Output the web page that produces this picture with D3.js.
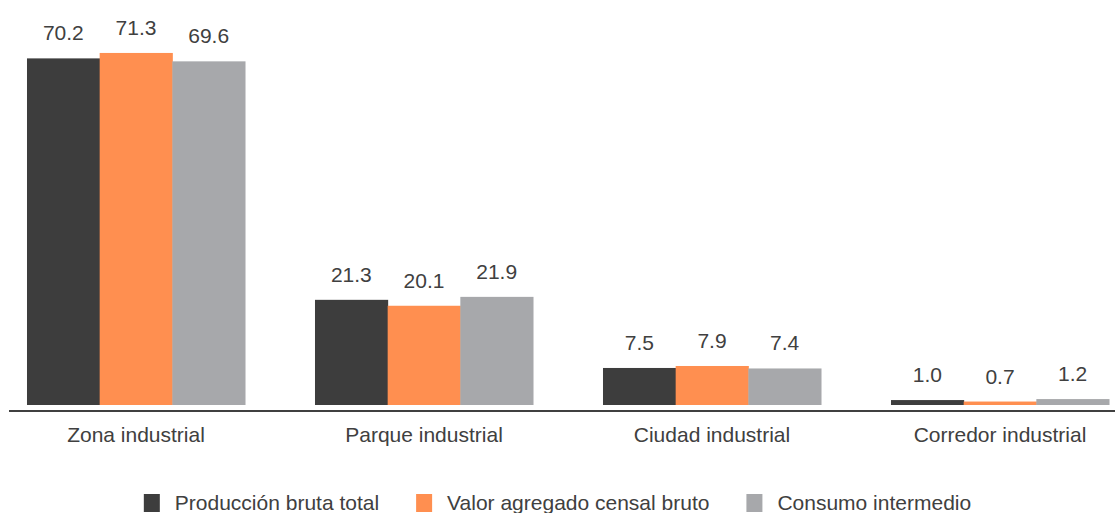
<!DOCTYPE html>
<html>
<head>
<meta charset="utf-8">
<script src="https://cdn.jsdelivr.net/npm/d3@7"></script>
<style>
  body { margin: 0; background: #fff; }
  text { font-family: "Liberation Sans", Arial, sans-serif; fill: #404040; }
</style>
</head>
<body>
<div id="viz"></div>
<script>
var categories = ["Zona industrial", "Parque industrial", "Ciudad industrial", "Corredor industrial"];
var seriesNames = ["Producción bruta total", "Valor agregado censal bruto", "Consumo intermedio"];
var produccion = [70.2, 21.3, 7.5, 1.0];
var valorAgregado = [71.3, 20.1, 7.9, 0.7];
var consumo = [69.6, 21.9, 7.4, 1.2];
var colors = ["#3d3d3d", "#ff8f50", "#a7a8ab"];

var series = [produccion, valorAgregado, consumo];

var width = 1115,
    height = 513;

var svg = d3.select("#viz")
    .append("svg")
    .attr("width", width)
    .attr("height", height);

// group scale runs a little past the right edge, like the cropped original
var x0 = d3.scaleBand()
    .domain(categories)
    .range([10, 1126])
    .paddingInner(0.243)
    .paddingOuter(0.059);

var x1 = d3.scaleBand()
    .domain(d3.range(seriesNames.length))
    .range([0, x0.bandwidth()]);

var y = d3.scaleLinear()
    .domain([0, 80])
    .range([405, 10]);

var groups = svg.selectAll(".grp")
    .data(categories)
    .enter().append("g")
    .attr("class", "grp")
    .attr("transform", function (d) { return "translate(" + x0(d) + ",0)"; });

groups.each(function (cat, i) {
    var g = d3.select(this);
    var vals = series.map(function (s, k) { return {k: k, v: s[i]}; });

    g.selectAll("rect")
        .data(vals)
        .enter().append("rect")
        .attr("x", function (d) { return x1(d.k); })
        .attr("y", function (d) { return y(d.v); })
        .attr("width", x1.bandwidth() + 0.5)
        .attr("height", function (d) { return y(0) - y(d.v); })
        .attr("fill", function (d) { return colors[d.k]; });

    g.selectAll(".val")
        .data(vals)
        .enter().append("text")
        .attr("class", "val")
        .attr("x", function (d) { return x1(d.k) + x1.bandwidth() / 2; })
        .attr("y", function (d) { return y(d.v) - 18; })
        .attr("text-anchor", "middle")
        .style("font-size", "21px")
        .text(function (d) { return d.v.toFixed(1); });
});

// baseline
svg.append("line")
    .attr("x1", 9)
    .attr("x2", width)
    .attr("y1", 411)
    .attr("y2", 411)
    .attr("stroke", "#404040")
    .attr("stroke-width", 2);

// category labels
svg.selectAll(".cat")
    .data(categories)
    .enter().append("text")
    .attr("class", "cat")
    .attr("x", function (d) { return x0(d) + x0.bandwidth() / 2; })
    .attr("y", 442)
    .attr("text-anchor", "middle")
    .style("font-size", "21px")
    .text(function (d) { return d; });

// legend, centred
var legend = svg.append("g");
var items = legend.selectAll(".item")
    .data(seriesNames)
    .enter().append("g")
    .attr("class", "item");

items.append("rect")
    .attr("x", 0)
    .attr("y", 494)
    .attr("width", 16)
    .attr("height", 18)
    .attr("fill", function (d, i) { return colors[i]; });

items.append("text")
    .attr("x", 31)
    .attr("y", 510)
    .style("font-size", "21px")
    .text(function (d) { return d; });

var pos = 0;
items.each(function () {
    var w = d3.select(this).select("text").node().getComputedTextLength() + 31;
    d3.select(this).attr("transform", "translate(" + pos + ",0)");
    pos += w + 37;
});
var total = pos - 37;
legend.attr("transform", "translate(" + (width / 2 - total / 2) + ",0)");
</script>
</body>
</html>
